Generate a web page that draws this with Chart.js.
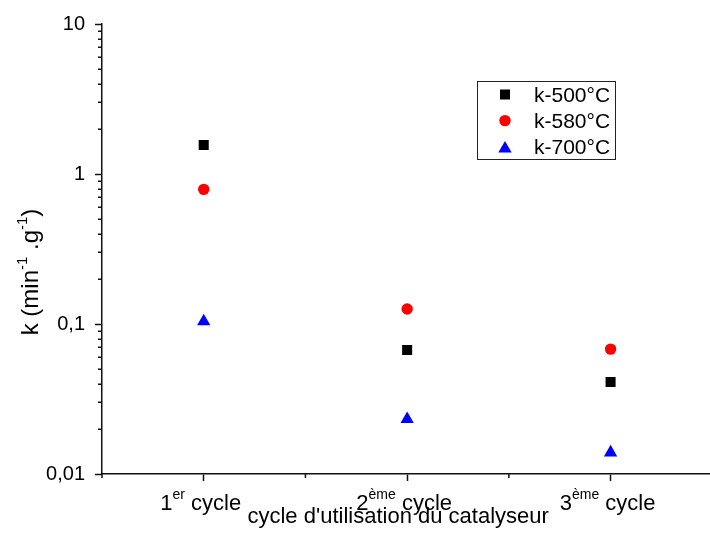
<!DOCTYPE html>
<html>
<head>
<meta charset="utf-8">
<script src="https://cdn.jsdelivr.net/npm/chart.js@4/dist/chart.umd.min.js"></script>
<style>
html, body { margin: 0; padding: 0; overflow: hidden; background: #ffffff; }
#wrap { width: 720px; height: 533px; }
</style>
</head>
<body>
<div id="wrap"><canvas id="c" width="720" height="533"></canvas></div>
<script>
// ---------- data ----------
const cyclePositions = [1, 2, 3];
const cycleNumbers = ['1', '2', '3'];
const cycleSuffixes = ['er', 'ème', 'ème'];
const cycleWord = 'cycle';
const seriesNames = ['k-500°C', 'k-580°C', 'k-700°C'];
const k500 = [1.56, 0.067, 0.041];
const k580 = [0.79, 0.126, 0.068];
const k700 = [0.104, 0.0232, 0.0139];
const yTickValues = [0.01, 0.1, 1, 10];
const yTickLabels = ['0,01', '0,1', '1', '10'];
const xAxisTitle = "cycle d'utilisation du catalyseur";
const yAxisTitleParts = [['k (min', false], ['-1', true], [' .g', false], ['-1', true], [')', false]];

// ---------- style ----------
const FONT = "'Liberation Sans', Arial, Helvetica, sans-serif";
const AXIS_COLOR = '#111111';
const TEXT_COLOR = '#000000';
const seriesStyles = [
  { color: '#000000', pointStyle: 'rect', radius: 7.1 },
  { color: '#ff0000', pointStyle: 'circle', radius: 5.7 },
  { color: '#0000ff', pointStyle: 'triangle', radius: 7.7 }
];
const seriesValues = [k500, k580, k700];

function drawPt(ctx, style, x, y) {
  ctx.fillStyle = style.color;
  ctx.strokeStyle = style.color;
  if (Chart.helpers && Chart.helpers.drawPoint) {
    Chart.helpers.drawPoint(ctx, { pointStyle: style.pointStyle, radius: style.radius, rotation: 0, borderWidth: 0 }, x, y);
  } else {
    ctx.beginPath();
    ctx.arc(x, y, style.radius, 0, Math.PI * 2);
    ctx.fill();
  }
}

const decorPlugin = {
  id: 'decor',
  afterDraw(chart) {
    const ctx = chart.ctx;
    const xs = chart.scales.x, ys = chart.scales.y;
    const ca = chart.chartArea;
    ctx.save();
    // minor ticks
    ctx.strokeStyle = AXIS_COLOR;
    ctx.lineWidth = 1.5;
    ctx.beginPath();
    for (let d = 0; d < yTickValues.length - 1; d++) {
      for (let m = 2; m <= 9; m++) {
        const py = Math.round(ys.getPixelForValue(yTickValues[d] * m)) + 0.25;
        ctx.moveTo(ca.left - 4, py);
        ctx.lineTo(ca.left, py);
      }
    }
    const xMinor = cyclePositions.map(v => v - 0.5).concat([cyclePositions[cyclePositions.length - 1] + 0.5]);
    xMinor.forEach(v => {
      const px = xs.getPixelForValue(v);
      ctx.moveTo(px, ca.bottom);
      ctx.lineTo(px, ca.bottom + 4);
    });
    ctx.stroke();

    // x tick labels with superscripts
    ctx.fillStyle = TEXT_COLOR;
    ctx.textBaseline = 'alphabetic';
    ctx.textAlign = 'left';
    const mainFont = '22px ' + FONT;
    const supFont = '14px ' + FONT;
    const base = ca.bottom + 35.5;
    cyclePositions.forEach((v, i) => {
      ctx.font = mainFont;
      const w1 = ctx.measureText(cycleNumbers[i]).width;
      const w3 = ctx.measureText(' ' + cycleWord).width;
      ctx.font = supFont;
      const w2 = ctx.measureText(cycleSuffixes[i]).width;
      const total = w1 + w2 + w3;
      let x = xs.getPixelForValue(v) - total / 2 - 3;
      ctx.font = mainFont;
      ctx.fillText(cycleNumbers[i], x, base);
      x += w1;
      ctx.font = supFont;
      ctx.fillText(cycleSuffixes[i], x, base - 11);
      x += w2;
      ctx.font = mainFont;
      ctx.fillText(' ' + cycleWord, x, base);
    });

    // x axis title
    ctx.font = '22px ' + FONT;
    ctx.textAlign = 'center';
    ctx.fillText(xAxisTitle, (ca.left + ca.right) / 2 - 9, ca.bottom + 49);

    // y axis title (rotated, with superscripts)
    ctx.save();
    ctx.translate(38, (ca.top + ca.bottom) / 2 + 23);
    ctx.rotate(-Math.PI / 2);
    ctx.textAlign = 'left';
    const tMain = '24px ' + FONT, tSup = '15px ' + FONT;
    let tw = 0;
    yAxisTitleParts.forEach(p => { ctx.font = p[1] ? tSup : tMain; tw += ctx.measureText(p[0]).width; });
    let tx = -tw / 2;
    yAxisTitleParts.forEach(p => {
      ctx.font = p[1] ? tSup : tMain;
      ctx.fillText(p[0], tx, p[1] ? -11 : 0);
      tx += ctx.measureText(p[0]).width;
    });
    ctx.restore();

    // legend
    const lg = { left: 477.5, top: 81.5, width: 138, height: 78, symX: 505, textX: 534, rows: [94.5, 120.6, 146.7] };
    ctx.lineWidth = 1;
    ctx.strokeStyle = '#222222';
    ctx.strokeRect(lg.left, lg.top, lg.width, lg.height);
    seriesNames.forEach((name, i) => {
      const st = seriesStyles[i];
      const yOff = st.pointStyle === 'triangle' ? st.radius * 0.25 : 0;
      drawPt(ctx, st, lg.symX, lg.rows[i] + yOff);
      ctx.fillStyle = TEXT_COLOR;
      ctx.font = '21px ' + FONT;
      ctx.textAlign = 'left';
      ctx.textBaseline = 'alphabetic';
      ctx.fillText(name, lg.textX, lg.rows[i] + 7.7);
    });
    ctx.restore();
  }
};

const datasets = seriesNames.map((name, i) => ({
  label: name,
  data: cyclePositions.map((x, j) => ({ x: x, y: seriesValues[i][j] })),
  showLine: false,
  pointStyle: seriesStyles[i].pointStyle,
  pointRadius: seriesStyles[i].radius,
  pointHoverRadius: seriesStyles[i].radius,
  pointBackgroundColor: seriesStyles[i].color,
  pointBorderColor: seriesStyles[i].color,
  pointBorderWidth: 0
}));

new Chart(document.getElementById('c'), {
  type: 'scatter',
  data: { datasets: datasets },
  options: {
    responsive: false,
    animation: false,
    devicePixelRatio: 1,
    events: [],
    layout: { padding: { left: 0, right: 5, top: 24, bottom: 0 } },
    plugins: { legend: { display: false }, tooltip: { enabled: false } },
    scales: {
      x: {
        type: 'linear',
        min: cyclePositions[0] - 0.5,
        max: cyclePositions[cyclePositions.length - 1] + 0.5,
        afterBuildTicks: s => { s.ticks = cyclePositions.map(v => ({ value: v })); },
        afterFit: s => { s.height = 59; },
        ticks: { callback: () => '', padding: 0 },
        grid: { display: true, drawOnChartArea: false, drawTicks: true, tickLength: 7, tickColor: AXIS_COLOR, tickWidth: 1.5 },
        border: { display: true, color: AXIS_COLOR, width: 1.5 }
      },
      y: {
        type: 'logarithmic',
        min: yTickValues[0],
        max: yTickValues[yTickValues.length - 1],
        afterBuildTicks: s => { s.ticks = yTickValues.map(v => ({ value: v })); },
        afterFit: s => { s.width = 102; },
        ticks: {
          autoSkip: false,
          padding: 10,
          color: TEXT_COLOR,
          font: { family: FONT, size: 20 },
          callback: (v) => { const i = yTickValues.indexOf(v); return i >= 0 ? yTickLabels[i] : ''; }
        },
        grid: { display: true, drawOnChartArea: false, drawTicks: true, tickLength: 7, tickColor: AXIS_COLOR, tickWidth: 1.5 },
        border: { display: true, color: AXIS_COLOR, width: 1.5 }
      }
    }
  },
  plugins: [decorPlugin]
});
</script>
</body>
</html>
